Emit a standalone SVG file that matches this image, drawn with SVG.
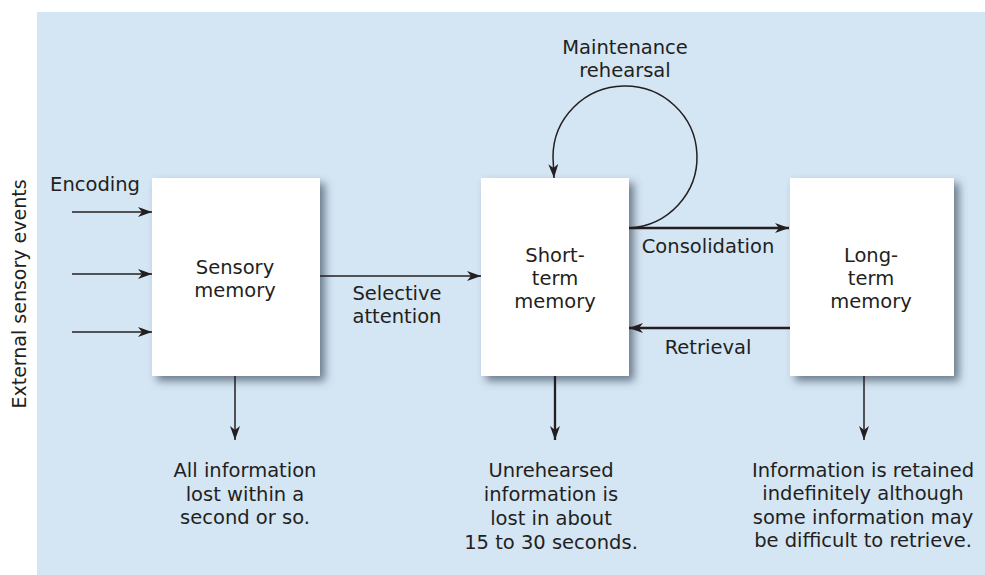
<svg xmlns="http://www.w3.org/2000/svg" width="985" height="575" viewBox="0 0 985 575">
<style>
text{font-family:"DejaVu Sans","Open Sans",sans-serif;font-size:19.5px;fill:#231f20;text-anchor:middle}
.box{fill:#ffffff;filter:url(#sh)}
.ln{fill:none;stroke:#231f20;stroke-width:1.5}
.thk{stroke-width:2.3}
</style>
<defs>
<filter id="sh" x="-10%" y="-10%" width="130%" height="130%">
<feDropShadow dx="5" dy="5" stdDeviation="4" flood-color="#3f5060" flood-opacity="0.7"/>
</filter>
<marker id="ah" viewBox="0 0 14 10" refX="14" refY="5" markerWidth="14" markerHeight="10" markerUnits="userSpaceOnUse" orient="auto">
<path d="M0,0 L14,5 L0,10 L4,5 Z" fill="#231f20"/>
</marker>
</defs>
<rect x="37" y="12" width="948" height="563" fill="#d4e5f4"/>
<g id="sensory">
<rect class="box" x="152" y="178" width="168" height="198"/>
<text x="235" y="274">Sensory<tspan x="235" dy="23">memory</tspan></text>
</g>
<g id="short-term">
<rect class="box" x="481" y="178" width="148" height="198"/>
<text x="555" y="262">Short-<tspan x="555" dy="23">term</tspan><tspan x="555" dy="23">memory</tspan></text>
</g>
<g id="long-term">
<rect class="box" x="790" y="178" width="164" height="198"/>
<text x="871" y="262">Long-<tspan x="871" dy="23">term</tspan><tspan x="871" dy="23">memory</tspan></text>
</g>
<g id="connectors">
<line class="ln" x1="72" y1="212" x2="152" y2="212" marker-end="url(#ah)"/>
<line class="ln" x1="72" y1="274" x2="152" y2="274" marker-end="url(#ah)"/>
<line class="ln" x1="72" y1="332" x2="152" y2="332" marker-end="url(#ah)"/>
<line class="ln" x1="320" y1="276" x2="481" y2="276" marker-end="url(#ah)"/>
<line class="ln thk" x1="629" y1="228" x2="789" y2="228" marker-end="url(#ah)"/>
<line class="ln thk" x1="790" y1="328" x2="629" y2="328" marker-end="url(#ah)"/>
<path class="ln" d="M629,228 A72,71 0 1 0 553,157 L554,178" marker-end="url(#ah)"/>
<line class="ln" x1="235" y1="376" x2="235" y2="440" marker-end="url(#ah)"/>
<line class="ln thk" x1="555" y1="376" x2="555" y2="440" marker-end="url(#ah)"/>
<line class="ln" x1="864" y1="376" x2="864" y2="440" marker-end="url(#ah)"/>
</g>
<g id="labels">
<text x="95" y="191">Encoding</text>
<text transform="translate(26,294) rotate(-90)" style="font-size:19px">External sensory events</text>
<text x="397" y="300">Selective<tspan x="397" dy="23">attention</tspan></text>
<text x="625" y="54">Maintenance<tspan x="625" dy="23">rehearsal</tspan></text>
<text x="708" y="253">Consolidation</text>
<text x="708" y="354">Retrieval</text>
<text x="245" y="477">All information<tspan x="245" dy="23.5">lost within a</tspan><tspan x="245" dy="23.5">second or so.</tspan></text>
<text x="551" y="477">Unrehearsed<tspan x="551" dy="24">information is</tspan><tspan x="551" dy="24">lost in about</tspan><tspan x="551" dy="24">15 to 30 seconds.</tspan></text>
<text x="863" y="477">Information is retained<tspan x="863" dy="23.3">indefinitely although</tspan><tspan x="863" dy="23.3">some information may</tspan><tspan x="863" dy="23.3">be difficult to retrieve.</tspan></text>
</g>
</svg>
